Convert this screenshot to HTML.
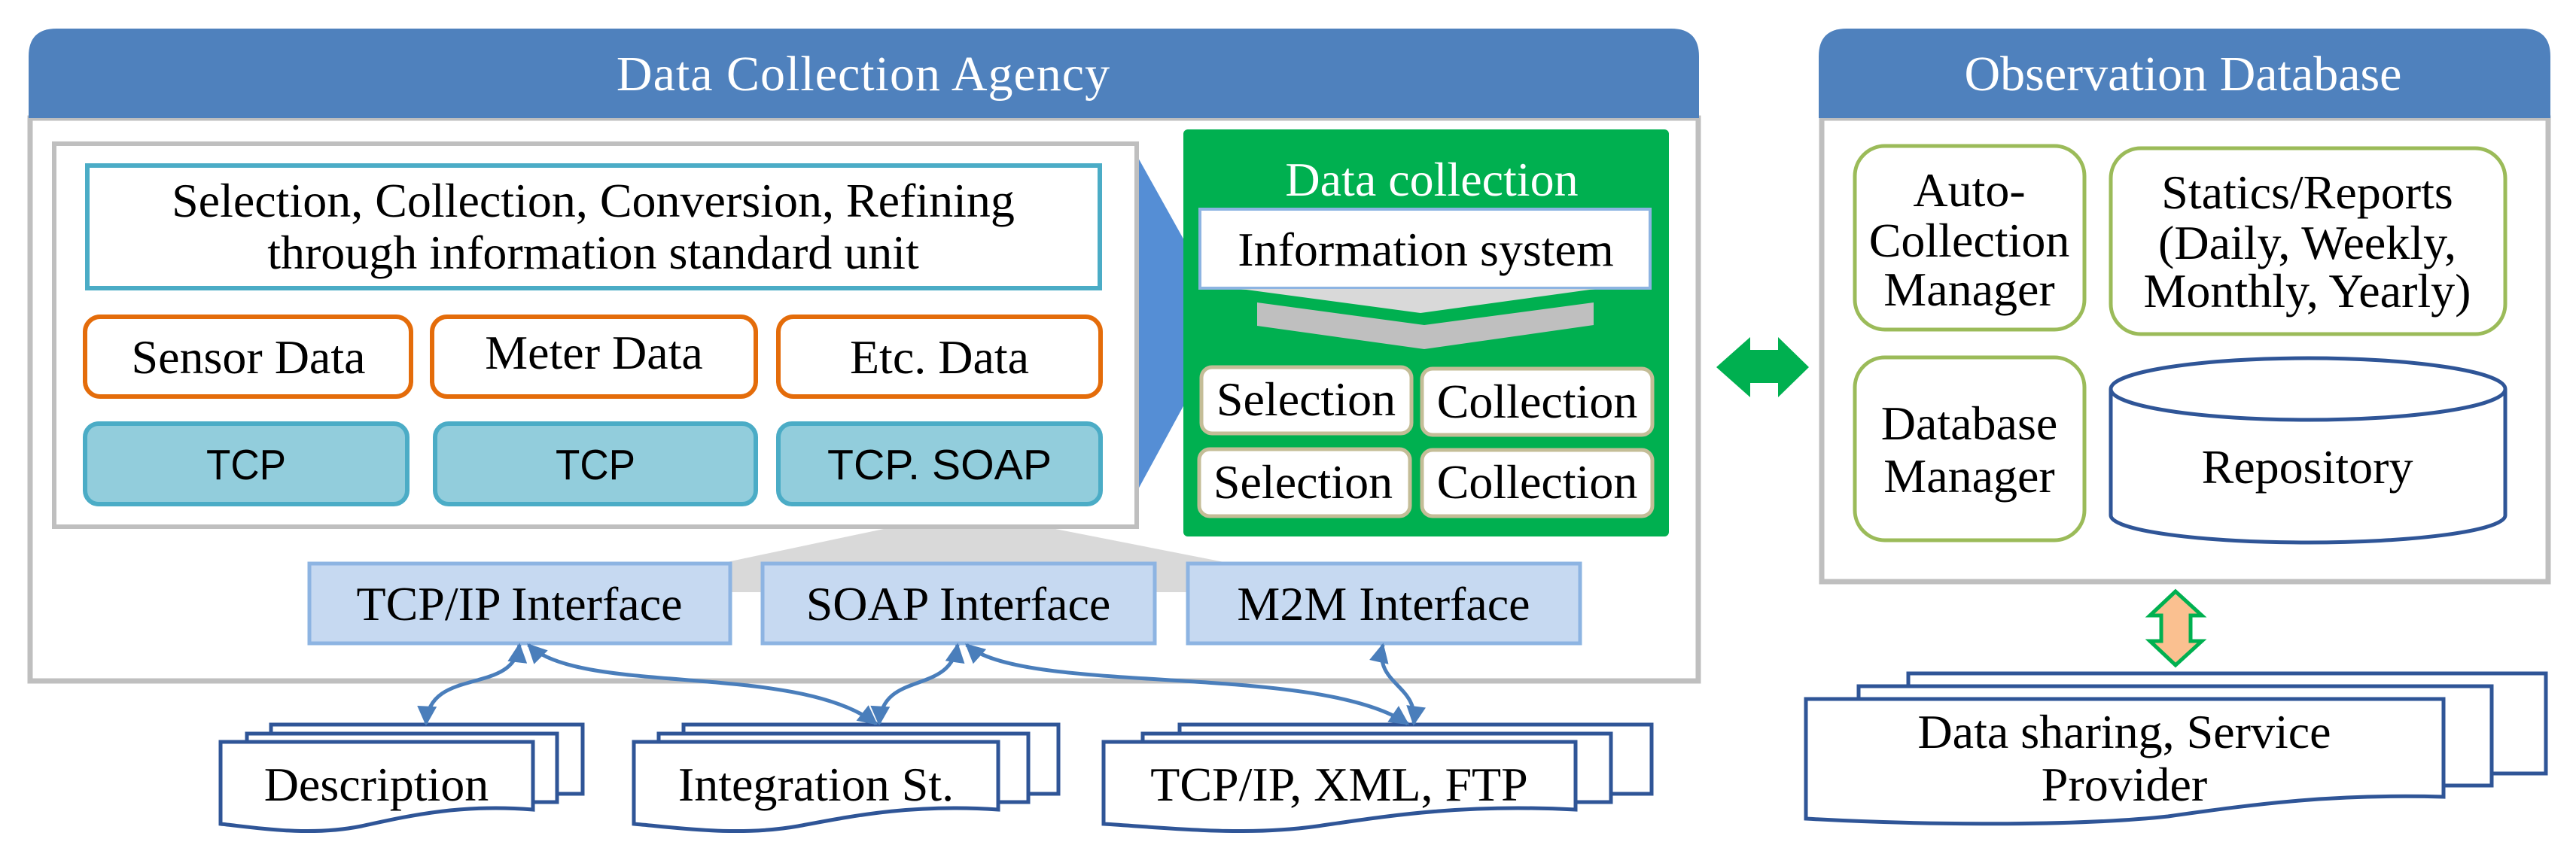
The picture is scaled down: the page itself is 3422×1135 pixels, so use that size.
<!DOCTYPE html>
<html><head><meta charset="utf-8"><style>
html,body{margin:0;padding:0;background:#fff;}
svg{display:block;}
.s{font-family:"Liberation Serif",serif;font-size:64px;letter-spacing:0px;fill:#000;}
.w{fill:#fff;}
.ss{font-family:"Liberation Sans",sans-serif;font-size:57px;fill:#000;}
</style></head><body>
<svg width="3422" height="1135" viewBox="0 0 3422 1135" xmlns="http://www.w3.org/2000/svg">
<defs>
<marker id="ah" viewBox="0 0 10 10" refX="9" refY="5" markerWidth="32" markerHeight="26" markerUnits="userSpaceOnUse" orient="auto-start-reverse">
<path d="M0,0 L10,5 L0,10 Z" fill="#4A7EBB"/>
</marker>
</defs>
<rect x="40" y="157" width="2216" height="748" fill="#fff" stroke="#BFBFBF" stroke-width="7"/>
<path d="M38,157 L38,75 Q38,38 75,38 L2220,38 Q2257,38 2257,75 L2257,157 Z" fill="#4F81BD"/>
<text x="1147" y="120" text-anchor="middle" class="s w" style="font-size:66px;letter-spacing:1px">Data Collection Agency</text>

<polygon points="1188,700 1387,700 1626,747 1626,787 961,787 961,748" fill="#D9D9D9"/>
<polygon points="1511,208 1574,321 1574,536 1511,652" fill="#558ED5"/>
<rect x="72" y="191" width="1438" height="509" fill="#fff" stroke="#BFBFBF" stroke-width="6"/>
<rect x="116" y="220" width="1345" height="163" fill="#fff" stroke="#4BACC6" stroke-width="6"/>
<text x="788" y="288" text-anchor="middle" class="s">Selection, Collection, Conversion, Refining</text>
<text x="788" y="357" text-anchor="middle" class="s">through information standard unit</text>

<g fill="#fff" stroke="#E46C0A" stroke-width="6">
<rect x="113" y="421" width="433" height="106" rx="20"/>
<rect x="574" y="421" width="430" height="106" rx="20"/>
<rect x="1034" y="421" width="428" height="106" rx="20"/>
</g>
<text x="330" y="496" text-anchor="middle" class="s">Sensor Data</text>
<text x="789" y="490" text-anchor="middle" class="s">Meter Data</text>
<text x="1248" y="496" text-anchor="middle" class="s">Etc. Data</text>

<g fill="#92CDDC" stroke="#4BACC6" stroke-width="6">
<rect x="113" y="563" width="428" height="107" rx="18"/>
<rect x="578" y="563" width="426" height="107" rx="18"/>
<rect x="1034" y="563" width="428" height="107" rx="18"/>
</g>
<text x="327" y="637" text-anchor="middle" class="ss" textLength="106" lengthAdjust="spacingAndGlyphs">TCP</text>
<text x="791" y="637" text-anchor="middle" class="ss" textLength="106" lengthAdjust="spacingAndGlyphs">TCP</text>
<text x="1248" y="637" text-anchor="middle" class="ss" textLength="298" lengthAdjust="spacingAndGlyphs">TCP. SOAP</text>

<rect x="1572" y="172" width="645" height="541" rx="6" fill="#00B050"/>
<text x="1902" y="260" text-anchor="middle" class="s w">Data collection</text>
<rect x="1594" y="278" width="598" height="105" fill="#fff" stroke="#8DB4E2" stroke-width="4"/>
<text x="1894" y="353" text-anchor="middle" class="s">Information system</text>
<polygon points="1648,384 2119,384 1887,416" fill="#D9D9D9"/>
<polygon points="1670,402 1892,432 2117,402 2117,432 1892,464 1670,433" fill="#BFBFBF"/>
<g fill="#fff" stroke="#C4BD97" stroke-width="5">
<rect x="1596" y="488" width="279" height="88" rx="14"/>
<rect x="1889" y="490" width="306" height="88" rx="14"/>
<rect x="1593" y="597" width="280" height="89" rx="14"/>
<rect x="1889" y="598" width="306" height="88" rx="14"/>
</g>
<text x="1735" y="552" text-anchor="middle" class="s">Selection</text>
<text x="2042" y="555" text-anchor="middle" class="s">Collection</text>
<text x="1731" y="662" text-anchor="middle" class="s">Selection</text>
<text x="2042" y="662" text-anchor="middle" class="s">Collection</text>

<g fill="#C6D9F1" stroke="#8DB4E2" stroke-width="5">
<rect x="411" y="749" width="559" height="106"/>
<rect x="1013" y="749" width="521" height="106"/>
<rect x="1578" y="749" width="521" height="106"/>
</g>
<text x="690" y="824" text-anchor="middle" class="s">TCP/IP Interface</text>
<text x="1273" y="824" text-anchor="middle" class="s">SOAP Interface</text>
<text x="1838" y="824" text-anchor="middle" class="s">M2M Interface</text>

<g fill="#fff" stroke="#2F5597" stroke-width="5">
<rect x="360" y="963" width="414" height="92"/>
<rect x="328" y="975" width="412" height="91"/>
<path d="M293,986 L708,986 L708,1076 C610,1068 540,1085 480,1098 C410,1112 340,1100 293,1095 Z"/>
<rect x="908" y="963" width="498" height="92"/>
<rect x="875" y="975" width="491" height="91"/>
<path d="M842,986 L1326,986 L1326,1076 C1210,1068 1130,1085 1060,1098 C980,1112 900,1100 842,1095 Z"/>
<rect x="1567" y="963" width="627" height="92"/>
<rect x="1518" y="975" width="622" height="91"/>
<path d="M1466,986 L2093,986 L2093,1076 C1940,1068 1840,1085 1750,1098 C1650,1112 1550,1100 1466,1095 Z"/>
</g>
<text x="500" y="1064" text-anchor="middle" class="s">Description</text>
<text x="1084" y="1064" text-anchor="middle" class="s">Integration St.</text>
<text x="1779" y="1064" text-anchor="middle" class="s">TCP/IP, XML, FTP</text>

<g fill="none" stroke="#4A7EBB" stroke-width="5" marker-start="url(#ah)" marker-end="url(#ah)">
<path d="M690,857 C682,925 570,885 566,962"/>
<path d="M702,857 C770,925 1060,880 1164,962"/>
<path d="M1272,857 C1262,925 1172,890 1168,962"/>
<path d="M1284,857 C1360,925 1750,880 1870,962"/>
<path d="M1837,857 C1825,910 1885,910 1878,962"/>
</g>

<polygon points="2280,488 2325,448 2325,465 2362,465 2362,448 2403,488 2362,528 2362,509 2325,509 2325,528" fill="#00B050"/>

<rect x="2420" y="157" width="965" height="616" fill="#fff" stroke="#BFBFBF" stroke-width="7"/>
<path d="M2416,157 L2416,75 Q2416,38 2453,38 L3351,38 Q3388,38 3388,75 L3388,157 Z" fill="#4F81BD"/>
<text x="2900" y="120" text-anchor="middle" class="s w" style="font-size:66px">Observation Database</text>
<g fill="#fff" stroke="#9BBB59" stroke-width="5">
<rect x="2464" y="194" width="305" height="244" rx="40"/>
<rect x="2804" y="197" width="524" height="247" rx="40"/>
<rect x="2464" y="475" width="305" height="243" rx="40"/>
</g>
<text x="2616" y="274" text-anchor="middle" class="s">Auto-</text>
<text x="2616" y="341" text-anchor="middle" class="s">Collection</text>
<text x="2616" y="406" text-anchor="middle" class="s">Manager</text>
<text x="3065" y="277" text-anchor="middle" class="s">Statics/Reports</text>
<text x="3065" y="344" text-anchor="middle" class="s">(Daily, Weekly,</text>
<text x="3065" y="408" text-anchor="middle" class="s">Monthly, Yearly)</text>
<text x="2616" y="584" text-anchor="middle" class="s">Database</text>
<text x="2616" y="654" text-anchor="middle" class="s">Manager</text>
<g fill="#fff" stroke="#2F5597" stroke-width="5">
<path d="M2804,517 L2804,685 A262,36 0 0 0 3328,685 L3328,517"/>
<ellipse cx="3066" cy="517" rx="262" ry="41"/>
</g>
<text x="3065" y="642" text-anchor="middle" class="s">Repository</text>

<polygon points="2890,786 2856,818 2871,818 2871,852 2856,852 2890,884 2925,852 2910,852 2910,818 2925,818" fill="#FAC090" stroke="#00B050" stroke-width="5"/>

<g fill="#fff" stroke="#2F5597" stroke-width="5">
<rect x="2535" y="895" width="847" height="133"/>
<rect x="2469" y="912" width="841" height="132"/>
<path d="M2399,929 L3246,929 L3246,1059 C3100,1055 3000,1068 2880,1085 C2740,1100 2520,1095 2399,1088 Z"/>
</g>
<text x="2822" y="994" text-anchor="middle" class="s">Data sharing, Service</text>
<text x="2822" y="1064" text-anchor="middle" class="s">Provider</text>
</svg>
</body></html>
